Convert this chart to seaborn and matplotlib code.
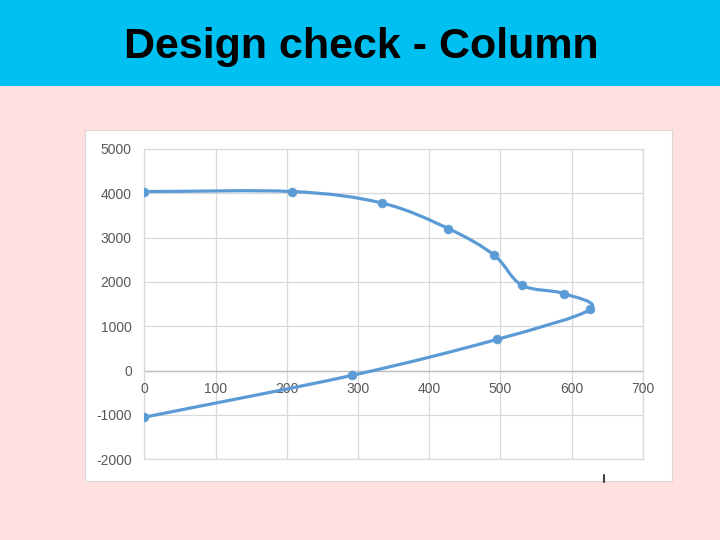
import numpy as np
import matplotlib
matplotlib.use("Agg")
import matplotlib.pyplot as plt
import seaborn as sns
import pandas as pd
from matplotlib.path import Path
from matplotlib.patches import PathPatch, Rectangle
from matplotlib.lines import Line2D

# --- Data ---
moment = [0, 208, 334, 427, 491, 530, 589, 626, 496, 292, 0]
axial = [4040, 4040, 3780, 3205, 2610, 1930, 1740, 1380, 708, -106, -1050]
x_ticks = [0, 100, 200, 300, 400, 500, 600, 700]
y_ticks = [-2000, -1000, 0, 1000, 2000, 3000, 4000, 5000]
title = "Design check - Column"

df = pd.DataFrame({"moment": moment, "axial": axial})

sns.set_style("white")
plt.rcParams["font.family"] = ["Liberation Sans", "DejaVu Sans"]

fig = plt.figure(figsize=(7.2, 5.4), dpi=100)
fig.patch.set_facecolor("#FFDFDF")

# header band
header = fig.add_axes([0, 1 - 86 / 540, 1, 86 / 540])
header.set_facecolor("#00C0F2")
header.set_xticks([])
header.set_yticks([])
for s in header.spines.values():
    s.set_visible(False)
header.text(0.502, 1 - 58.3 / 86, title, ha="center", va="baseline", fontsize=31,
            fontweight="bold", color="black", transform=header.transAxes)

# white chart frame
fig.add_artist(Rectangle((85 / 720, 1 - 481 / 540), 587 / 720, 351 / 540,
                         transform=fig.transFigure, facecolor="white",
                         edgecolor="#D9D9D9", lw=0.8, zorder=0))
fig.add_artist(Line2D([604 / 720, 604 / 720], [1 - 482 / 540, 1 - 475 / 540],
                      transform=fig.transFigure, color="#404040", lw=1.5))

ax = fig.add_axes([144.3 / 720, 1 - 459.3 / 540, 498.4 / 720, 310.3 / 540])
ax.set_facecolor("white")
ax.set_xlim(0, 700)
ax.set_ylim(-2000, 5000)
ax.set_xticks(x_ticks)
ax.set_yticks(y_ticks)
ax.grid(True, color="#D9D9D9", lw=0.9)
for s in ax.spines.values():
    s.set_color("#D9D9D9")
    s.set_linewidth(0.9)
ax.axhline(0, color="#BFBFBF", lw=1.0, zorder=1)
ax.tick_params(length=0, labelsize=10, labelcolor="#595959", pad=9)
ax.set_xticklabels([])
ax.set_yticklabels([str(v) for v in y_ticks])
for v in x_ticks:
    ax.annotate(str(v), xy=(v, 0), xytext=(0, -13), textcoords="offset points",
                ha="center", va="center", fontsize=10, color="#595959")

# smoothed line (Bezier through the points, like Excel's smoothed scatter)
P = df[["moment", "axial"]].to_numpy(dtype=float)
n = len(P)
T = np.zeros_like(P)
T[0] = P[1] - P[0]
T[-1] = P[-1] - P[-2]
T[1:-1] = (P[2:] - P[:-2]) / 2
verts = [P[0]]
codes = [Path.MOVETO]
for i in range(n - 1):
    verts += [P[i] + T[i] / 3, P[i + 1] - T[i + 1] / 3, P[i + 1]]
    codes += [Path.CURVE4] * 3
ax.add_patch(PathPatch(Path(verts, codes), facecolor="none",
                       edgecolor="#5B9BD5", lw=2.3, zorder=3,
                       capstyle="round", joinstyle="round"))

sns.scatterplot(data=df, x="moment", y="axial", ax=ax, color="#5B9BD5",
                s=40, edgecolor="#5B9BD5", zorder=4, legend=False)
ax.set_xlabel("")
ax.set_ylabel("")

fig.savefig("out.png", dpi=100, facecolor=fig.get_facecolor())
